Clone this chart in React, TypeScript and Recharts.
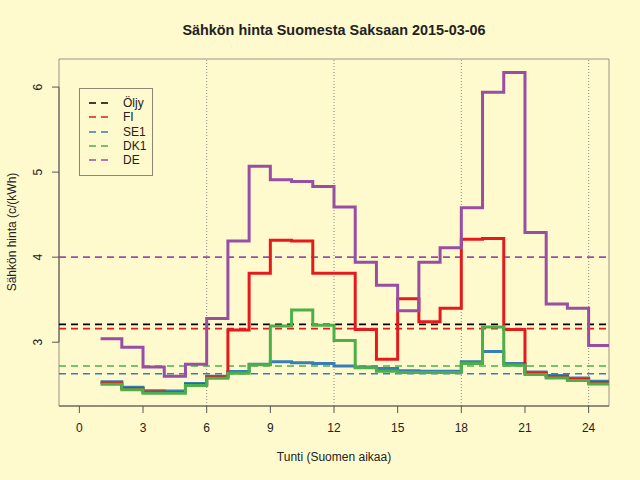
import React from 'react';
import {
  ComposedChart,
  Line,
  XAxis,
  YAxis,
  ReferenceLine,
  ReferenceArea,
  Label,
} from 'recharts';

// hours 1..25, value holds from hour h to h+1 (last one repeats so the step runs out)
const hours = [1, 2, 3, 4, 5, 6, 7, 8, 9, 10, 11, 12, 13, 14, 15, 16, 17, 18, 19, 20, 21, 22, 23, 24, 25];
const fi = [2.52, 2.455, 2.415, 2.41, 2.5, 2.59, 3.145, 3.81, 4.2, 4.19, 3.81, 3.81, 3.15, 2.8, 3.51, 3.24, 3.4, 4.21, 4.22, 3.15, 2.635, 2.595, 2.565, 2.525, 2.525];
const se1 = [2.535, 2.47, 2.43, 2.425, 2.515, 2.6, 2.655, 2.74, 2.77, 2.76, 2.75, 2.72, 2.71, 2.69, 2.665, 2.66, 2.66, 2.77, 2.89, 2.75, 2.65, 2.61, 2.58, 2.54, 2.54];
const dk1 = [2.505, 2.44, 2.4, 2.4, 2.49, 2.575, 2.635, 2.735, 3.19, 3.38, 3.2, 3.02, 2.7, 2.66, 2.645, 2.645, 2.645, 2.75, 3.18, 2.73, 2.62, 2.58, 2.55, 2.51, 2.51];
const de = [3.04, 2.94, 2.71, 2.6, 2.74, 3.28, 4.19, 5.07, 4.91, 4.89, 4.83, 4.59, 3.94, 3.67, 3.37, 3.94, 4.11, 4.58, 5.94, 6.17, 4.29, 3.45, 3.4, 2.96, 2.96];

// daily averages (dashed lines)
const averages = [
  { name: 'Öljy', value: 3.21, color: '#000000' },
  { name: 'FI', value: 3.16, color: '#E41A1C' },
  { name: 'SE1', value: 2.63, color: '#377EB8' },
  { name: 'DK1', value: 2.72, color: '#4DAF4A' },
  { name: 'DE', value: 4.0, color: '#984EA3' },
];

const xTicks = [0, 3, 6, 9, 12, 15, 18, 21, 24];
const yTicks = [3, 4, 5, 6];
const gridHours = [6, 12, 18, 24];

const X_MIN = -0.96;
const X_MAX = 24.96;
const Y_MIN = 2.25;
const Y_MAX = 6.33;

const data = hours.map((h, i) => ({
  hour: h,
  FI: fi[i],
  SE1: se1[i],
  DK1: dk1[i],
  DE: de[i],
}));

// drawing order: later ones sit on top
const series = [
  { key: 'SE1', color: '#377EB8' },
  { key: 'FI', color: '#E41A1C' },
  { key: 'DK1', color: '#4DAF4A' },
  { key: 'DE', color: '#984EA3' },
];

const FONT = '"Liberation Sans", Arial, Helvetica, sans-serif';
const INK = '#222222';

const YTick = (props: any) => {
  const { y, payload } = props;
  return (
    <text
      x={38}
      y={y}
      transform={`rotate(-90, 38, ${y})`}
      textAnchor="middle"
      dominantBaseline="central"
      fontSize={12}
      fontFamily={FONT}
      fill={INK}
    >
      {payload.value}
    </text>
  );
};

const Legend = () => (
  <div
    style={{
      position: 'absolute',
      left: 79,
      top: 88,
      width: 72,
      height: 86,
      border: '1px solid #8c8676',
      fontFamily: FONT,
      fontSize: 12,
      color: INK,
    }}
  >
    {averages.map((a, i) => (
      <div
        key={a.name}
        style={{ position: 'absolute', left: 0, top: 7 + i * 14.3, height: 14, display: 'flex', alignItems: 'center' }}
      >
        <svg width={40} height={14}>
          <line x1={9} x2={30} y1={7} y2={7} stroke={a.color} strokeWidth={1.6} strokeDasharray="7 5" />
        </svg>
        <span style={{ marginLeft: 3 }}>{a.name}</span>
      </div>
    ))}
  </div>
);

export default function App() {
  return (
    <div
      style={{
        position: 'absolute',
        left: 0,
        top: 0,
        width: 640,
        height: 480,
        background: '#FFFACD',
      }}
    >
      <div
        style={{
          position: 'absolute',
          left: 59,
          width: 550,
          top: 22,
          textAlign: 'center',
          fontFamily: FONT,
          fontWeight: 'bold',
          fontSize: 14.4,
          color: INK,
        }}
      >
        Sähkön hinta Suomesta Saksaan 2015-03-06
      </div>
      <ComposedChart
        width={640}
        height={480}
        data={data}
        margin={{ top: 59, right: 31, bottom: 0, left: 0 }}
      >
        <XAxis
          type="number"
          dataKey="hour"
          domain={[X_MIN, X_MAX]}
          allowDataOverflow
          ticks={xTicks}
          interval={0}
          height={74}
          tickSize={7}
          tickMargin={10}
          stroke="#555555"
          tick={{ fontSize: 12, fontFamily: FONT, fill: INK }}
        >
          <Label
            content={() => (
              <text x={334} y={457} textAnchor="middle" dominantBaseline="central" fontSize={12} fontFamily={FONT} fill={INK}>
                Tunti (Suomen aikaa)
              </text>
            )}
          />
        </XAxis>
        <YAxis
          type="number"
          domain={[Y_MIN, Y_MAX]}
          allowDataOverflow
          ticks={yTicks}
          interval={0}
          width={59}
          tickSize={7}
          axisLine={false}
          stroke="#555555"
          tick={<YTick />}
        >
          <Label
            content={() => (
              <text
                x={12}
                y={232}
                transform="rotate(-90, 12, 232)"
                textAnchor="middle"
                dominantBaseline="central"
                fontSize={12}
                fontFamily={FONT}
                fill={INK}
              >
                Sähkön hinta (c/(kWh)
              </text>
            )}
          />
        </YAxis>
        <ReferenceArea
          x1={X_MIN}
          x2={X_MAX}
          y1={Y_MIN}
          y2={Y_MAX}
          fill="none"
          stroke="#9a9382"
          strokeWidth={1}
          ifOverflow="visible"
        />
        <ReferenceLine
          segment={[
            { x: X_MIN, y: 3 },
            { x: X_MIN, y: 6 },
          ]}
          stroke="#555555"
          ifOverflow="visible"
        />
        {gridHours.map((h) => (
          <ReferenceLine key={h} x={h} stroke="#8a8a8a" strokeDasharray="1 2" />
        ))}
        {averages.map((a) => (
          <ReferenceLine key={a.name} y={a.value} stroke={a.color} strokeWidth={1.6} strokeDasharray="7 5" />
        ))}
        {series.map((s) => (
          <Line
            key={s.key}
            type="stepAfter"
            dataKey={s.key}
            stroke={s.color}
            strokeWidth={3}
            dot={false}
            isAnimationActive={false}
          />
        ))}
      </ComposedChart>
      <Legend />
    </div>
  );
}
